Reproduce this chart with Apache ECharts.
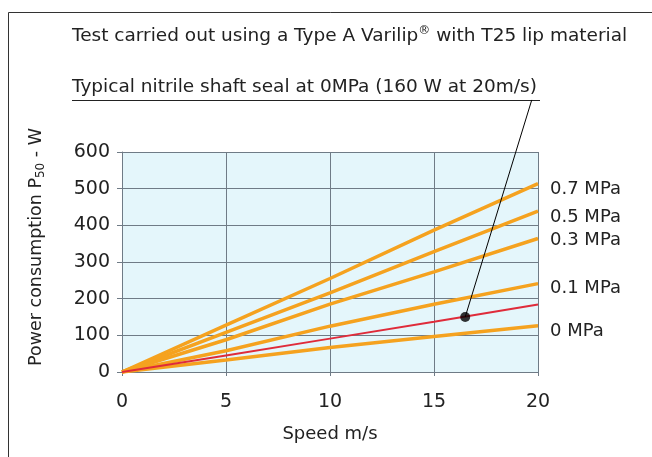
<!DOCTYPE html>
<html>
<head>
<meta charset="utf-8">
<script src="https://cdn.jsdelivr.net/npm/echarts@6/dist/echarts.min.js"></script>
<style>html,body{margin:0;padding:0;background:#fff;}#c{width:652px;height:457px;}</style>
</head>
<body>
<div id="c"></div>
<script>
var speeds = [0, 5, 10, 15, 20];
var seriesNames = ['0.7 MPa', '0.5 MPa', '0.3 MPa', '0.1 MPa', '0 MPa'];
var p07 = [0, 128, 255, 387, 514];
var p05 = [0, 108, 216, 328, 439];
var p03 = [0, 88, 185, 273, 364];
var p01 = [0, 58, 125, 185, 241];
var p00 = [0, 33, 67, 97, 126];
var nitrile = [0, 45, 91, 137, 184];
var annotPoint = [16.5, 150];
var annotEnd = [19.7, 742];
var titleText = 'Test carried out using a Type A Varilip';
var titleText2 = ' with T25 lip material';
var noteText = 'Typical nitrile shaft seal at 0MPa (160 W at 20m/s)';

function pairs(vals) { return speeds.map(function (s, i) { return [s, vals[i]]; }); }

var orange = '#f5a21f';
var red = '#df2b3a';
var font = 'DejaVu Sans';
var labelOffsets = [6, 6, 2, 5, 6];

var pressureSets = [p07, p05, p03, p01, p00];
var series = pressureSets.map(function (vals, i) {
  return {
    name: seriesNames[i], type: 'line', data: pairs(vals), symbol: 'none', z: 3,
    lineStyle: { color: orange, width: 3.5 },
    endLabel: { show: true, formatter: '{a}', distance: 12, offset: [0, labelOffsets[i]], color: '#222', fontSize: 18, fontFamily: font }
  };
});
series.push({
  name: 'nitrile', type: 'line', data: pairs(nitrile), symbol: 'none', z: 4,
  lineStyle: { color: red, width: 2 }
});
series.push({
  name: 'annot', type: 'line', data: [annotPoint, annotEnd], symbol: 'none', clip: false, z: 5,
  lineStyle: { color: '#000', width: 1 }
});
series.push({
  name: 'dot', type: 'scatter', data: [annotPoint], symbolSize: 10, z: 6,
  itemStyle: { color: '#000' }
});

var chart = echarts.init(document.getElementById('c'));
chart.setOption({
  animation: false,
  backgroundColor: '#fff',
  grid: { left: 122, right: 114, top: 152, bottom: 85, show: true, backgroundColor: '#e4f6fb', borderWidth: 0 },
  xAxis: {
    type: 'value', min: 0, max: 20, interval: 5,
    name: 'Speed m/s', nameLocation: 'middle', nameGap: 53,
    nameTextStyle: { fontSize: 18, color: '#222', fontFamily: font },
    axisLine: { show: true, lineStyle: { color: '#6f7b86', width: 1 } },
    axisTick: { show: true, length: 4, lineStyle: { color: '#6f7b86' } },
    axisLabel: { fontSize: 19, color: '#222', fontFamily: font, margin: 21 },
    splitLine: { show: true, lineStyle: { color: '#6f7b86', width: 1 } }
  },
  yAxis: {
    type: 'value', min: 0, max: 600, interval: 100,
    axisLine: { show: true, lineStyle: { color: '#6f7b86', width: 1 } },
    axisTick: { show: true, length: 5, lineStyle: { color: '#6f7b86' } },
    axisLabel: { fontSize: 19, color: '#222', fontFamily: font, margin: 12 },
    splitLine: { show: true, lineStyle: { color: '#6f7b86', width: 1 } }
  },
  graphic: [
    { type: 'rect', shape: { x: 8.5, y: 12.5, width: 700, height: 500 }, style: { fill: 'none', stroke: '#333', lineWidth: 1 }, silent: true, z: -1 },
    { type: 'text', left: 72, top: 25, style: {
        text: '{a|' + titleText + '}{r|®}{a|' + titleText2 + '}',
        rich: {
          a: { fontSize: 18.5, fill: '#222', fontFamily: font },
          r: { fontSize: 12, fill: '#222', fontFamily: font, padding: [0, 0, 10, 0] }
        } } },
    { type: 'text', left: 72, top: 78, style: { text: noteText, fontSize: 18.5, fill: '#222', fontFamily: font } },
    { type: 'line', shape: { x1: 72, y1: 100.5, x2: 540, y2: 100.5 }, style: { stroke: '#222', lineWidth: 1.2 } },
    { type: 'text', x: 36, y: 247, rotation: Math.PI / 2, style: {
        text: '{a|Power consumption P}{s|50}{a| - W}', align: 'center', verticalAlign: 'middle',
        rich: {
          a: { fontSize: 17.5, fill: '#222', fontFamily: font },
          s: { fontSize: 12, fill: '#222', fontFamily: font, padding: [9, 0, 0, 0] }
        } } }
  ],
  series: series
});
</script>
</body>
</html>
